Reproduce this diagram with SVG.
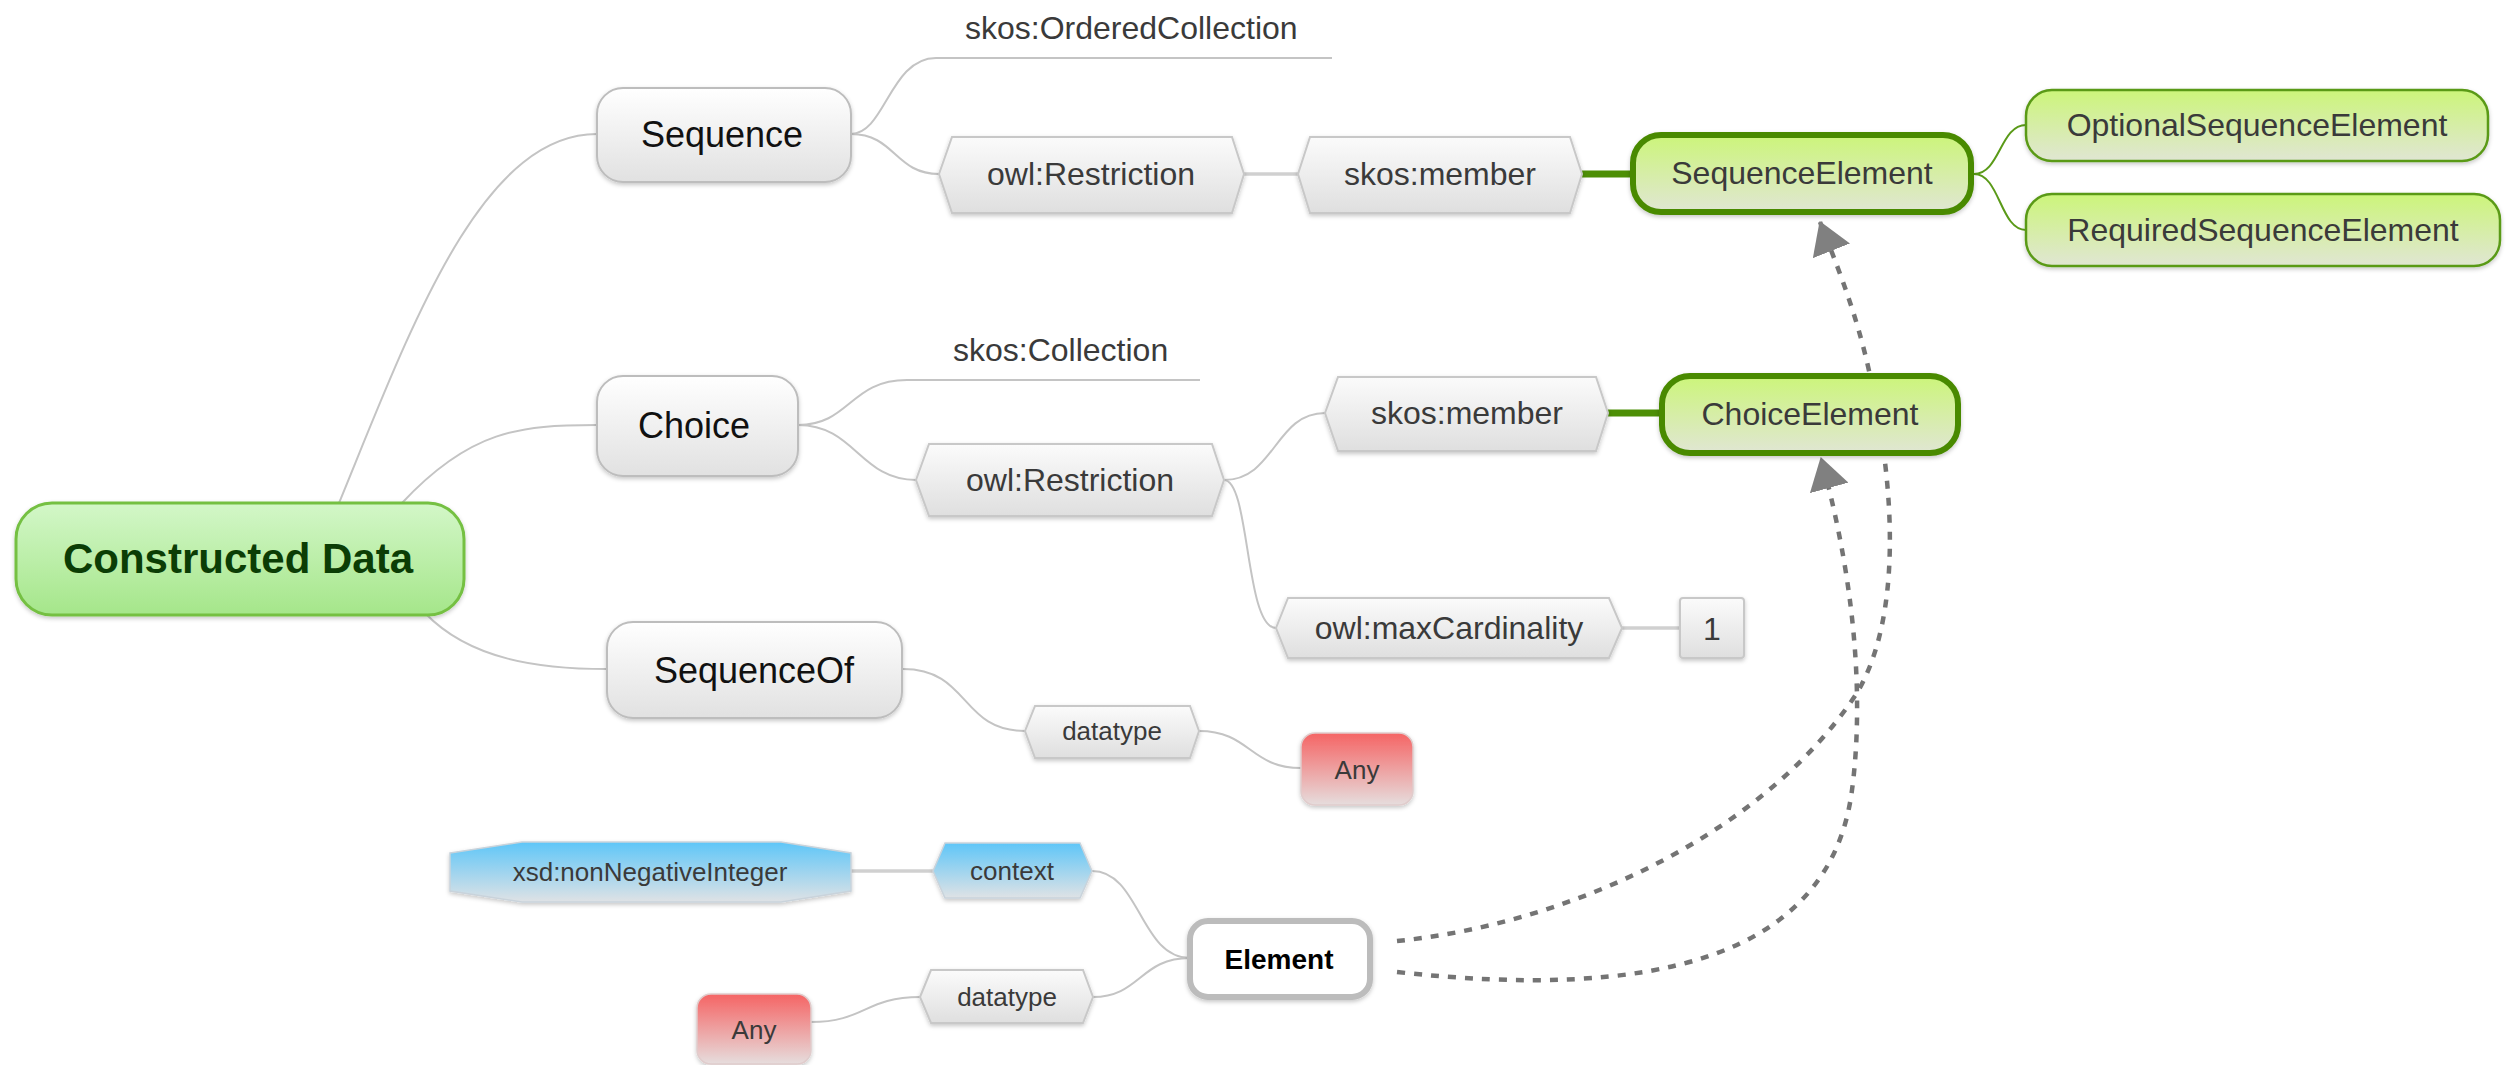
<svg xmlns="http://www.w3.org/2000/svg" width="2516" height="1065" viewBox="0 0 2516 1065">
<defs>
<linearGradient id="gGray" x1="0" y1="0" x2="0" y2="1"><stop offset="0" stop-color="#ffffff"/><stop offset="1" stop-color="#e1e1e1"/></linearGradient>
<linearGradient id="gHex" x1="0" y1="0" x2="0" y2="1"><stop offset="0" stop-color="#fbfbfb"/><stop offset="1" stop-color="#dfdfdf"/></linearGradient>
<linearGradient id="gLime" x1="0" y1="0" x2="0" y2="1"><stop offset="0" stop-color="#ccf57a"/><stop offset="1" stop-color="#e0e6d3"/></linearGradient>
<linearGradient id="gRoot" x1="0" y1="0" x2="0" y2="1"><stop offset="0" stop-color="#d3f7c8"/><stop offset="1" stop-color="#a5e68a"/></linearGradient>
<linearGradient id="gBlue" x1="0" y1="0" x2="0" y2="1"><stop offset="0" stop-color="#5ec6f8"/><stop offset="1" stop-color="#dfe2e5"/></linearGradient>
<linearGradient id="gRed" x1="0" y1="0" x2="0" y2="1"><stop offset="0" stop-color="#f56464"/><stop offset="1" stop-color="#e6dddd"/></linearGradient>
<filter id="sh" x="-10%" y="-10%" width="120%" height="130%"><feDropShadow dx="0" dy="2" stdDeviation="2" flood-color="#000" flood-opacity="0.22"/></filter>
<marker id="arr" markerUnits="userSpaceOnUse" markerWidth="32" markerHeight="40" viewBox="0 0 32 40" refX="31" refY="20" orient="auto"><path d="M0,0 L32,20 L0,40 z" fill="#808080"/></marker>
</defs>
<style>
text{font-family:"Liberation Sans",Arial,sans-serif;text-anchor:middle;fill:#3a3a3a}
.big{font-size:36px;fill:#111}
.lab{font-size:32px}
.sm{font-size:26px}
.gray{fill:url(#gGray);stroke:#bdbdbd;stroke-width:2;filter:url(#sh)}
.hex{fill:url(#gHex);stroke:#c8c8c8;stroke-width:2;filter:url(#sh)}
.lime{fill:url(#gLime);stroke:#5a9a18;stroke-width:2.5;filter:url(#sh)}
.limeB{fill:url(#gLime);stroke:#4a8a06;stroke-width:6;filter:url(#sh)}
.blue{fill:url(#gBlue);stroke:#c9d3db;stroke-width:1.5;filter:url(#sh)}
.red{fill:url(#gRed);stroke:#e0cccc;stroke-width:1.5;filter:url(#sh)}
.c{fill:none;stroke:#c4c4c4;stroke-width:2}
.cs{fill:none;stroke:#d0d0d0;stroke-width:3.5}
.cg{fill:none;stroke:#4d8f06;stroke-width:7}
.cgt{fill:none;stroke:#5a9a18;stroke-width:2}
.d{fill:none;stroke:#747474;stroke-width:4.5;stroke-dasharray:8 9;marker-end:url(#arr)}
</style>
<g id="connectors">
<path class="c" d="M339,503 C410,330 480,134 597,134"/>
<path class="c" d="M402,503 C470,430 520,425 597,425"/>
<path class="c" d="M425,613 C470,660 540,669 607,669"/>
<path class="c" d="M851,134 C885,134 890,58 936,58 L1332,58"/>
<path class="c" d="M851,134 C895,134 895,174 939,174"/>
<path class="cs" d="M1244,174 L1298,174"/>
<path class="cg" d="M1582,174 L1633,174"/>
<path class="cgt" d="M1974,174 C2000,174 2000,125 2026,125"/>
<path class="cgt" d="M1974,174 C2000,174 2000,230 2026,230"/>
<path class="c" d="M798,425 C850,425 850,380 907,380 L1200,380"/>
<path class="c" d="M798,425 C855,425 860,480 916,480"/>
<path class="c" d="M1224,480 C1275,480 1275,413 1325,413"/>
<path class="cg" d="M1608,413 L1662,413"/>
<path class="c" d="M1224,480 C1250,480 1245,628 1276,628"/>
<path class="cs" d="M1622,628 L1680,628"/>
<path class="c" d="M903,669 C970,669 960,731 1025,731"/>
<path class="c" d="M1199,731 C1250,731 1250,768 1301,768"/>
<path class="cs" d="M851,871 L933,871"/>
<path class="c" d="M1092,871 C1140,871 1140,958 1190,958"/>
<path class="c" d="M1093,997 C1140,997 1140,958 1190,958"/>
<path class="c" d="M811,1022 C865,1022 865,997 920,997"/>
<path class="d" d="M1397,941 C1560,925 1760,840 1857,693 C1900,620 1895,500 1875,400 C1862,330 1845,285 1820,222"/>
<path class="d" d="M1397,972 C1650,1000 1830,960 1852,790 C1862,715 1860,600 1821,458"/>
</g>
<g id="n-constructed-data">
<rect x="16" y="503" width="448" height="112" rx="36" fill="url(#gRoot)" stroke="#74c043" stroke-width="3" filter="url(#sh)"/>
<text x="238" y="573" style="font-size:42px;font-weight:bold;fill:#0b3d05">Constructed Data</text>
</g>
<g id="n-sequence"><rect class="gray" x="597" y="88" width="254" height="94" rx="26"/><text class="big" x="722" y="147">Sequence</text></g>
<g id="n-choice"><rect class="gray" x="597" y="376" width="201" height="100" rx="26"/><text class="big" x="694" y="438">Choice</text></g>
<g id="n-sequenceof"><rect class="gray" x="607" y="622" width="295" height="96" rx="26"/><text class="big" x="754" y="683">SequenceOf</text></g>
<g id="n-ordered-collection"><text class="lab" x="965" y="39" style="text-anchor:start">skos:OrderedCollection</text></g>
<g id="n-collection"><text class="lab" x="953" y="361" style="text-anchor:start">skos:Collection</text></g>
<g id="n-restriction-seq"><polygon class="hex" points="939,174 952,137 1232,137 1244,174 1232,213 952,213"/><text class="lab" x="1091" y="185">owl:Restriction</text></g>
<g id="n-member-seq"><polygon class="hex" points="1298,174 1310,137 1570,137 1582,174 1570,213 1310,213"/><text class="lab" x="1440" y="185">skos:member</text></g>
<g id="n-sequence-element"><rect class="limeB" x="1633" y="135" width="338" height="77" rx="28"/><text class="lab" x="1802" y="184">SequenceElement</text></g>
<g id="n-optional"><rect class="lime" x="2026" y="90" width="462" height="71" rx="26"/><text class="lab" x="2257" y="136">OptionalSequenceElement</text></g>
<g id="n-required"><rect class="lime" x="2026" y="194" width="474" height="72" rx="26"/><text class="lab" x="2263" y="241">RequiredSequenceElement</text></g>
<g id="n-restriction-choice"><polygon class="hex" points="916,480 929,444 1212,444 1224,480 1212,516 929,516"/><text class="lab" x="1070" y="491">owl:Restriction</text></g>
<g id="n-member-choice"><polygon class="hex" points="1325,413 1338,377 1596,377 1608,413 1596,451 1338,451"/><text class="lab" x="1467" y="424">skos:member</text></g>
<g id="n-choice-element"><rect class="limeB" x="1662" y="376" width="296" height="77" rx="28"/><text class="lab" x="1810" y="425">ChoiceElement</text></g>
<g id="n-maxcard"><polygon class="hex" points="1276,628 1288,598 1609,598 1622,628 1609,658 1288,658"/><text class="lab" x="1449" y="639">owl:maxCardinality</text></g>
<g id="n-one"><rect class="hex" x="1680" y="598" width="64" height="60" rx="3"/><text class="lab" x="1712" y="640">1</text></g>
<g id="n-datatype-seqof"><polygon class="hex" points="1025,731 1035,706 1190,706 1199,731 1190,758 1035,758"/><text class="sm" x="1112" y="740">datatype</text></g>
<g id="n-any-seqof"><rect class="red" x="1301" y="733" width="112" height="72" rx="14"/><text class="sm" x="1357" y="779">Any</text></g>
<g id="n-xsd"><polygon class="blue" points="450,853 522,842 781,842 851,853 851,891 781,902 522,902 450,891"/><text class="sm" x="650" y="881">xsd:nonNegativeInteger</text></g>
<g id="n-context"><polygon class="blue" points="933,871 945,843 1080,843 1092,871 1080,898 945,898"/><text class="sm" x="1012" y="880">context</text></g>
<g id="n-element"><rect x="1190" y="921" width="180" height="76" rx="18" fill="#fff" stroke="#bcbcbc" stroke-width="6" filter="url(#sh)"/><text x="1279" y="969" style="font-size:28px;font-weight:bold;fill:#000">Element</text></g>
<g id="n-datatype-elem"><polygon class="hex" points="920,997 931,970 1083,970 1093,997 1083,1023 931,1023"/><text class="sm" x="1007" y="1006">datatype</text></g>
<g id="n-any-elem"><rect class="red" x="697" y="994" width="114" height="70" rx="14"/><text class="sm" x="754" y="1039">Any</text></g>
</svg>
